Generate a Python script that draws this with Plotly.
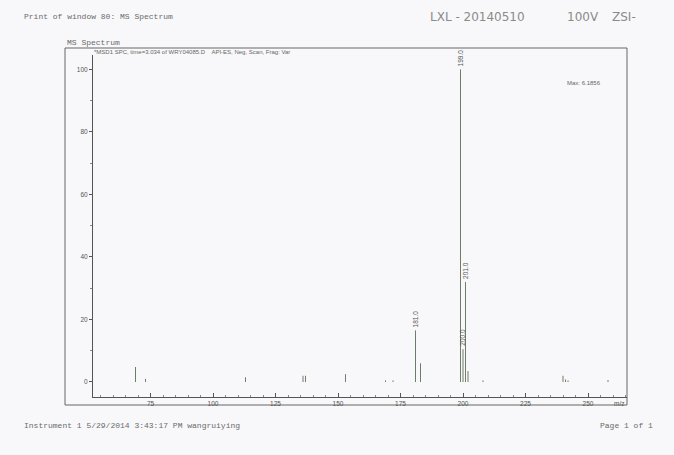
import plotly.graph_objects as go

# ---- data ----
mz = [69, 73, 113, 136, 137, 153, 169, 172, 181, 183, 199, 200, 201, 202, 208, 240, 241, 242, 258]
abundance = [4.8, 1.0, 1.5, 2.0, 2.0, 2.5, 0.5, 0.5, 16.5, 6.0, 100, 10.5, 32, 3.5, 0.5, 2.0, 0.8, 0.5, 0.6]
labeled_mz = [181, 199, 200, 201]
x_ticks = [75, 100, 125, 150, 175, 200, 225, 250]
y_ticks = [0, 20, 40, 60, 80, 100]

W, H = 674, 455
L, R, T, B = 93, 627, 55, 397  # plot area in page pixels

def px(x):
    return (x - L) / (R - L)

def py(y):
    return (B - y) / (B - T)

# stick spectrum built from the arrays
xs, ys = [], []
for m, a in zip(mz, abundance):
    xs += [m, m, None]
    ys += [0, a, None]

fig = go.Figure()
fig.add_trace(go.Scatter(x=xs, y=ys, mode="lines",
                         line=dict(color="#6d7d68", width=1),
                         hoverinfo="skip", showlegend=False))

grey = "#555555"
ann = []
for m, a in zip(mz, abundance):
    if m in labeled_mz:
        ann.append(dict(x=m, y=a, xref="x", yref="y", text=f"{m:.1f}",
                        textangle=-90, showarrow=False, yanchor="bottom",
                        xanchor="center", yshift=1,
                        font=dict(family="Liberation Sans", size=6.5, color=grey)))

mono = dict(family="Liberation Mono", size=8, color="#6a6a6a")
hand = dict(family="DejaVu Sans", size=12, color="#8a8a8a")
small = dict(family="Liberation Sans", size=6, color="#666666")
page_text = [
    (22, 17, "Print of window 80: MS Spectrum", mono, "left"),
    (65, 42, "MS Spectrum", mono, "left"),
    (92, 52, "*MSD1 SPC, time=3.034 of WRY04085.D    API-ES, Neg, Scan, Frag: Var", small, "left"),
    (565, 83, "Max: 6.1856", small, "left"),
    (612, 403, "m/z", dict(family="Liberation Sans", size=6.5, color=grey), "left"),
    (22, 425, "Instrument 1 5/29/2014 3:43:17 PM wangruiying", mono, "left"),
    (655, 425, "Page 1 of 1", mono, "right"),
    (428, 17, "LXL - 20140510", hand, "left"),
    (565, 17, "100V", hand, "left"),
    (610, 17, "ZSI-", hand, "left"),
]
for x, y, t, f, xa in page_text:
    ann.append(dict(x=px(x), y=py(y), xref="paper", yref="paper", text=t, font=f,
                    xanchor=xa, yanchor="middle", showarrow=False))

fig.update_layout(
    width=W, height=H,
    margin=dict(l=L, r=W - R, t=T, b=H - B, pad=0),
    paper_bgcolor="#f8f8fa", plot_bgcolor="#f8f8fa",
    annotations=ann,
    shapes=[dict(type="rect", xref="paper", yref="paper",
                 x0=px(65), x1=px(627), y0=py(405), y1=py(48),
                 line=dict(color="#666666", width=1), layer="below")],
    xaxis=dict(range=[52, 265.6], tickvals=x_ticks, showgrid=False, zeroline=False,
               showline=True, linecolor=grey, linewidth=1, ticks="inside", ticklen=4,
               tickcolor=grey, tickfont=dict(family="Liberation Sans", size=6.5, color=grey),
               minor=dict(dtick=5, tick0=0, ticks="inside", ticklen=2, tickcolor="#888888")),
    yaxis=dict(range=[-4.8, 104.6], tickvals=y_ticks, showgrid=False, zeroline=False,
               showline=True, linecolor=grey, linewidth=1, ticks="outside", ticklen=3,
               tickcolor=grey, tickfont=dict(family="Liberation Sans", size=6.5, color=grey),
               minor=dict(dtick=10, tick0=0, ticks="outside", ticklen=2, tickcolor="#888888")),
)

fig.write_html("out.html", config={"displayModeBar": False},
               post_script="document.body.style.margin='0';document.body.style.background='#f8f8fa';")
